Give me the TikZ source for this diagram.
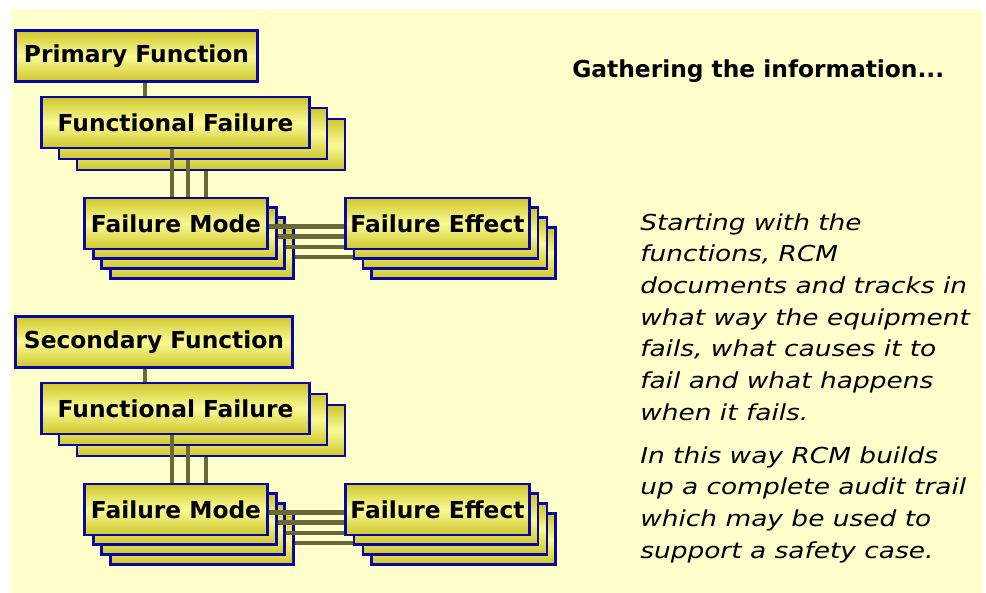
\documentclass[tikz,border=0pt]{standalone}
\usepackage{fontspec}
\setmainfont{DejaVu Sans}
\newfontfamily\descfont[FakeStretch=1.2]{DejaVu Sans}
\definecolor{bgyellow}{HTML}{FFFFCC}
\definecolor{cardblue}{HTML}{0808A0}
\definecolor{ydark}{HTML}{CFC72A}
\definecolor{ylight}{HTML}{FAFA96}
\definecolor{linkolive}{HTML}{6B6838}
\pgfdeclarelayer{bg}
\pgfdeclarelayer{ffl}
\pgfdeclarelayer{vl}
\pgfdeclarelayer{fml}
\pgfdeclarelayer{hl}
\pgfsetlayers{bg,ffl,vl,fml,hl,main}
\tikzset{
  card/.style={draw=cardblue, line width=2.2pt, top color=ydark, bottom color=ydark,
    middle color=ylight, inner sep=0pt, minimum height=38.25pt,
    font=\bfseries\fontsize{17.5}{20}\selectfont},
  ffcard/.style={card, minimum width=201pt},
  fmcard/.style={card, minimum width=137.25pt},
  fecard/.style={card, minimum width=138pt},
  conn/.style={draw=linkolive, line width=3.6pt},
  heading/.style={font=\bfseries\fontsize{17.5}{20}\selectfont, inner sep=0pt},
  desc/.style={font=\descfont\itshape\fontsize{16.5}{23.75}\selectfont, inner sep=0pt}
}
\begin{document}
\begin{tikzpicture}[x=0.75pt,y=-0.75pt]
\useasboundingbox (0,0) rectangle (986,593);
\begin{pgfonlayer}{bg}
  \fill[white] (0,0) rectangle (986,593);
  \fill[bgyellow] (11,9) rectangle (982,593);
\end{pgfonlayer}
\foreach \g/\dy/\lbl/\fw/\fx in {p/0/Primary Function/181.5pt/136.5, s/286/Secondary Function/207.75pt/154}{
  \begin{pgfonlayer}{ffl}
    \node[card, minimum width=\fw] (\g-fn) at (\fx,56+\dy) {\lbl};
    \node[ffcard] (\g-ff3) at (211,144.5+\dy) {};
    \node[ffcard] (\g-ff2) at (193,133.5+\dy) {};
    \node[ffcard] (\g-ff1) at (175.5,122.5+\dy) {Functional Failure};
  \end{pgfonlayer}
  \begin{pgfonlayer}{fml}
    \node[fmcard] (\g-fm4) at (202,253+\dy) {};
    \node[fmcard] (\g-fm3) at (193.4,243.2+\dy) {};
    \node[fmcard] (\g-fm2) at (184.7,233.4+\dy) {};
    \node[fmcard] (\g-fm1) at (176,223.5+\dy) {Failure Mode};
  \end{pgfonlayer}
  \node[fecard] (\g-fe4) at (463.5,253+\dy) {};
  \node[fecard] (\g-fe3) at (455,243.2+\dy) {};
  \node[fecard] (\g-fe2) at (446,233.4+\dy) {};
  \node[fecard] (\g-fe1) at (437.5,223.5+\dy) {Failure Effect};
  \begin{pgfonlayer}{vl}
    \coordinate (\g-c0) at ([xshift=-22.9pt]\g-ff1.north);
    \draw[conn] (\g-c0) -- (\g-c0 |- \g-fn.south);
    \coordinate (\g-v1) at ([xshift=-2.6pt]\g-ff1.south);
    \coordinate (\g-v2) at ([xshift=-3.75pt]\g-ff2.south);
    \coordinate (\g-v3) at ([xshift=-3.75pt]\g-ff3.south);
    \draw[conn] (\g-v1) -- (\g-v1 |- \g-fm1.north);
    \draw[conn] (\g-v2) -- (\g-v2 |- \g-fm1.north);
    \draw[conn] (\g-v3) -- (\g-v3 |- \g-fm1.north);
  \end{pgfonlayer}
  \begin{pgfonlayer}{hl}
    \coordinate (\g-h1) at ([yshift=-2.2pt]\g-fm1.east);
    \coordinate (\g-h2) at ([yshift=-2.6pt]\g-fm2.east);
    \coordinate (\g-h3) at ([yshift=-2.8pt]\g-fm3.east);
    \coordinate (\g-h4) at ([yshift=-3pt]\g-fm4.east);
    \draw[conn] (\g-h1) -- (\g-h1 -| \g-fe4.west);
    \draw[conn] (\g-h2) -- (\g-h2 -| \g-fe4.west);
    \draw[conn] (\g-h3) -- (\g-h3 -| \g-fe4.west);
    \draw[conn] (\g-h4) -- (\g-h4 -| \g-fe4.west);
  \end{pgfonlayer}
}
\node[heading, anchor=base west] (head) at (572,77) {Gathering the information...};
\node[desc, anchor=base west] (para1) at (640,230) {\begin{tabular}[t]{@{}l@{}}Starting with the\\functions, RCM\\documents and tracks in\\what way the equipment\\fails, what causes it to\\fail and what happens\\when it fails.\end{tabular}};
\node[desc, anchor=base west] (para2) at (640,463) {\begin{tabular}[t]{@{}l@{}}In this way RCM builds\\up a complete audit trail\\which may be used to\\support a safety case.\end{tabular}};
\end{tikzpicture}
\end{document}
